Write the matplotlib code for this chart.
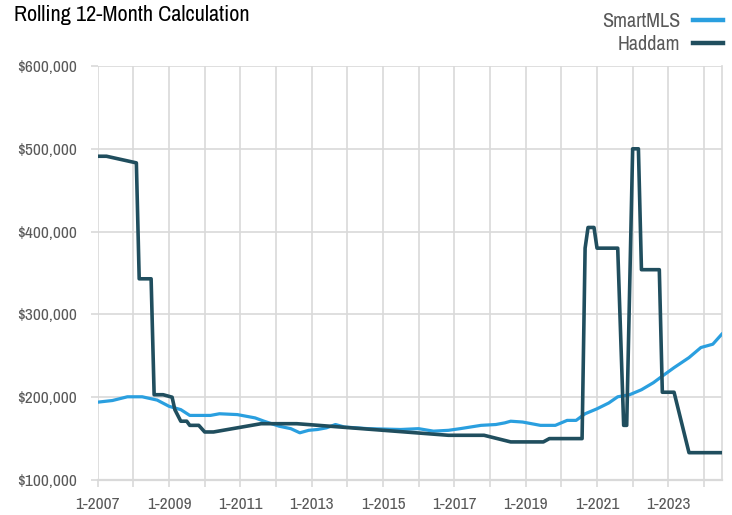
import numpy as np
import pandas as pd
import matplotlib
matplotlib.use("Agg")
import matplotlib.pyplot as plt
from matplotlib import font_manager
from matplotlib.lines import Line2D
from matplotlib.ticker import FuncFormatter

# SmartMLS rolling 12-month median
smart_months = ["2007-01", "2007-06", "2007-11", "2008-04", "2008-09", "2009-01", "2009-05",
                "2009-08", "2010-03", "2010-06", "2010-12", "2011-06", "2011-09", "2012-02",
                "2012-06", "2012-09", "2012-12", "2013-03", "2013-06", "2013-09", "2013-12",
                "2014-08", "2015-07", "2016-01", "2016-06", "2016-11", "2017-03", "2017-10",
                "2018-03", "2018-06", "2018-08", "2018-12", "2019-06", "2019-11", "2020-03",
                "2020-06", "2020-09", "2021-01", "2021-05", "2021-08", "2021-12", "2022-04",
                "2022-08", "2022-11", "2023-03", "2023-08", "2023-12", "2024-04", "2024-07"]
smart_values = [194000, 196000, 200500, 200500, 196500, 189000, 185000,
                178000, 178000, 180000, 179000, 175000, 171000, 165000,
                162000, 157000, 160000, 161000, 163000, 167000, 164000,
                162000, 161000, 162000, 159000, 160000, 162000, 166000,
                167000, 169000, 171000, 170000, 166000, 166000, 172000,
                172000, 180000, 186000, 193000, 200500, 203000, 209000,
                217500, 225500, 235700, 247800, 260000, 264000, 276000]

# Haddam
haddam_months = ["2007-01", "2007-04", "2008-02", "2008-03", "2008-07", "2008-08", "2008-11",
                 "2009-02", "2009-03", "2009-05", "2009-07", "2009-08", "2009-11", "2010-01",
                 "2010-04", "2011-08", "2012-08", "2016-11", "2017-11", "2018-08", "2019-07",
                 "2019-09", "2020-08", "2020-09", "2020-10", "2020-12", "2021-01", "2021-08",
                 "2021-10", "2021-11", "2022-01", "2022-03", "2022-04", "2022-10", "2022-11",
                 "2023-03", "2023-08", "2024-07"]
haddam_values = [491000, 491000, 483000, 343000, 343000, 203000, 203000,
                 200000, 185000, 171000, 171000, 166000, 166000, 158000,
                 158000, 168000, 168000, 154000, 154000, 146000, 146000,
                 150000, 150000, 380000, 405000, 405000, 380000, 380000,
                 166000, 166000, 500000, 500000, 354000, 354000, 206000,
                 206000, 133000, 133000]

series_names = ["SmartMLS", "Haddam"]
series_colors = ["#2a9fdf", "#204e5e"]
title_text = "Rolling 12-Month Calculation"
label_years = list(range(2007, 2024, 2))
grid_years = list(range(2007, 2025))

# want a narrow sans like the original; take whatever condensed face exists
names = sorted({f.name for f in font_manager.fontManager.ttflist})
narrow = [n for n in names if "Narrow" in n or "Condensed" in n]
if narrow:
    plt.rcParams['font.family'] = [narrow[0], 'DejaVu Sans']
    sz = 1.0
else:
    plt.rcParams['font.family'] = ['Liberation Sans', 'DejaVu Sans']
    sz = 0.82

W, H = 732, 515
fig = plt.figure(figsize=(W / 100, H / 100), dpi=100)
ax = fig.add_axes([97.7 / W, 1 - 480 / H, (721.7 - 97.7) / W, (480 - 66) / H])

grid_c = "#d9d9d9"
text_c = "#595959"

sm_x = pd.to_datetime(smart_months)
hd_x = pd.to_datetime(haddam_months)
ax.plot(sm_x, smart_values, color=series_colors[0], lw=2.3, zorder=3)
ax.plot(hd_x, haddam_values, color=series_colors[1], lw=2.6, zorder=4)

ax.set_ylim(100000, 600000)
ax.set_xlim(pd.Timestamp("2007-01-01"), pd.Timestamp("2024-07-01"))
ax.set_yticks(np.arange(100000, 600001, 100000))
ax.yaxis.set_major_formatter(FuncFormatter(lambda v, p: "${:,.0f}".format(v)))

ax.set_xticks([pd.Timestamp(f"{y}-01-01") for y in label_years])
ax.set_xticklabels([f"1-{y}" for y in label_years])
ax.set_xticks([pd.Timestamp(f"{y}-01-01") for y in grid_years if y not in label_years], minor=True)

ax.grid(True, which='both', axis='x', color=grid_c, lw=1.2)
ax.grid(True, axis='y', color=grid_c, lw=1.2)
ax.set_axisbelow(True)
for s in ['top', 'left']:
    ax.spines[s].set_visible(False)
ax.spines['right'].set_color(grid_c)
ax.spines['right'].set_linewidth(1.2)
ax.spines['bottom'].set_color(grid_c)
ax.spines['bottom'].set_linewidth(1.6)

ax.tick_params(axis='y', colors=grid_c, length=4.8, width=1.2, labelcolor=text_c,
               labelsize=12.5 * sz, pad=10)
ax.tick_params(axis='x', which='both', colors=grid_c, length=5, width=1.2, labelcolor=text_c)
ax.tick_params(axis='x', which='major', labelsize=12.5 * sz, pad=7.5)

fig.text(14 / W, 1 - 20.7 / H, title_text, fontsize=16 * sz, color="black",
         ha='left', va='baseline')

# legend, text right-aligned with the swatch after it
for i, (name, col) in enumerate(zip(series_names, series_colors)):
    base = 26.7 + 23.5 * i
    mid = 20 + 22.7 * i
    fig.text(680 / W, 1 - base / H, name, fontsize=14.5 * sz, color=text_c,
             ha='right', va='baseline')
    fig.add_artist(Line2D([692.7 / W, 722.7 / W], [1 - mid / H, 1 - mid / H],
                          transform=fig.transFigure, color=col, lw=3.2))

fig.savefig("out.png", dpi=100)
